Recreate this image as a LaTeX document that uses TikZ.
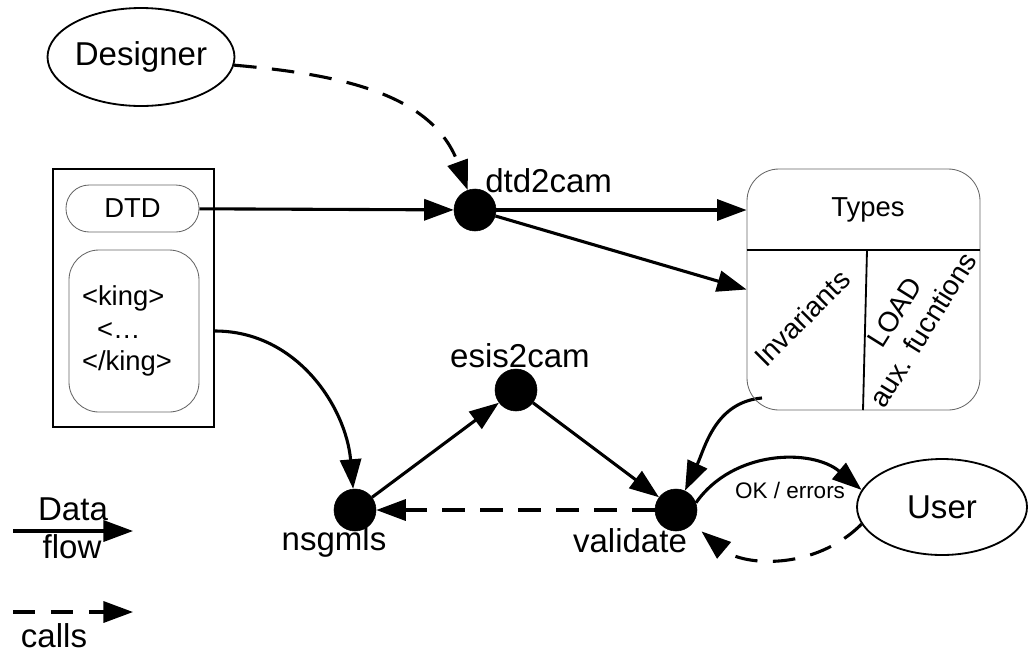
\documentclass[tikz,border=0pt]{standalone}
\usepackage{fontspec}
\setmainfont{Liberation Sans}
\usetikzlibrary{arrows.meta,shapes.geometric}
\pgfdeclarelayer{background layer}
\pgfsetlayers{background layer,main}
\tikzstyle{proc}=[circle,draw=black,fill=black,inner sep=0pt,minimum size=1.05cm]
\tikzstyle{actor}=[ellipse,draw=black,line width=1.3pt,inner sep=0pt,font=\fontsize{23.5}{28}\selectfont]
\tikzstyle{lbl}=[inner sep=0pt,font=\fontsize{23.5}{28}\selectfont]
\tikzstyle{part}=[draw=black!60,line width=0.6pt,font=\fontsize{19.5}{23.4}\selectfont]
\tikzstyle{dataflow}=[line width=2.2pt,-{Triangle[length=21pt,width=15pt]}]
\tikzstyle{callflow}=[dataflow,dash pattern=on 16pt off 11pt]

\begin{document}
\begin{tikzpicture}
			\useasboundingbox (0,0) rectangle (25.7,-16.3);
			\node (designer) at (3.525,-1.425) [actor,minimum width=4.4cm,minimum height=2.45cm] {Designer};
			\node (user) at (23.55,-12.675) [actor,minimum width=4.25cm,minimum height=2.4cm] {User};
			\node (dtdbox) at (3.3375,-7.45) [draw,line width=1.3pt,minimum width=4.025cm,minimum height=6.45cm] {};
			\node (dtd) at (3.3125,-5.2125) [part,rounded corners=0.58cm,minimum width=3.325cm,minimum height=1.175cm] {DTD};
			\node (king) at (3.35,-8.275) [part,rounded corners=0.75cm,minimum width=3.25cm,minimum height=4.05cm,text width=2.6cm,inner xsep=0.325cm,align=left] {<king>\\\hspace*{0.375cm}<…\\</king>};
			\node (types) at (21.5875,-7.2375) [part,rounded corners=0.8cm,minimum width=5.825cm,minimum height=6.025cm] {};
			\node (typestxt) at (21.7,-5.25) [font=\fontsize{19.5}{23.4}\selectfont] {Types};
			\node (inv) at (20.05,-7.95) [rotate=45,font=\fontsize{20}{23.4}\selectfont] {Invariants};
			\node (load) at (22.725,-8.025) [rotate=58,align=center,font=\fontsize{20}{23.4}\selectfont] {LOAD\\aux. fucntions};
			\coordinate (div) at (21.675,-6.25);
			\coordinate (divb) at (21.575,-10.25);
			\draw [line width=1.3pt] (types.west |- div) -- (types.east |- div);
			\draw [line width=1.3pt] (div) -- (divb);
			\node (dtd2cam) at (11.875,-5.25) [proc] {};
			\node (esis2cam) at (12.9,-9.75) [proc] {};
			\node (nsgmls) at (8.875,-12.75) [proc] {};
			\node (validate) at (16.9,-12.75) [proc] {};
			\node (dtd2camlbl) at (12.125,-4.8) [lbl,anchor=base west] {dtd2cam};
			\node (esis2camlbl) at (13.0,-9.175) [lbl,anchor=base] {esis2cam};
			\node (nsgmlslbl) at (8.35,-13.75) [lbl,anchor=base] {nsgmls};
			\node (validatelbl) at (15.75,-13.8) [lbl,anchor=base] {validate};
			\node (oklbl) at (19.75,-12.25) [font=\fontsize{16}{19}\selectfont,inner sep=0pt] {OK / errors};
			\node (datalbl) at (1.825,-13.0) [lbl,anchor=base] {Data};
			\node (flowlbl) at (1.8,-13.95) [lbl,anchor=base] {flow};
			\node (callslbl) at (1.35,-16.175) [lbl,anchor=base] {calls};
			\coordinate (legA) at (0.325,-13.275);
			\coordinate (legB) at (3.325,-13.275);
			\coordinate (legC) at (0.325,-15.3);
			\coordinate (legD) at (3.325,-15.3);
			\coordinate (typesout) at (19.05,-9.95);
			\begin{pgfonlayer}{background layer}
			\draw [callflow] (designer) to[out=-5,in=110] (dtd2cam);
			\draw [dataflow] (dtd) -- (dtd2cam);
			\draw [dataflow] (dtd2cam) -- (dtd2cam -| types.west);
			\draw [dataflow] (dtd2cam) -- (types.west);
			\draw [dataflow] (dtdbox.east |- king) to[out=0,in=95] (nsgmls);
			\draw [dataflow] (nsgmls) -- (esis2cam);
			\draw [dataflow] (esis2cam) -- (validate);
			\draw [dataflow] (typesout) to[out=185,in=65] (validate);
			\draw [dataflow] (validate.20) to[out=55,in=140] (user.168);
			\draw [callflow,shorten >=0.3cm] (user.192) to[out=225,in=-40] (validate);
			\draw [callflow] (validate) -- (nsgmls);
			\draw [dataflow] (legA) -- (legB);
			\draw [callflow] (legC) -- (legD);
			\end{pgfonlayer}
		\end{tikzpicture}
\end{document}
